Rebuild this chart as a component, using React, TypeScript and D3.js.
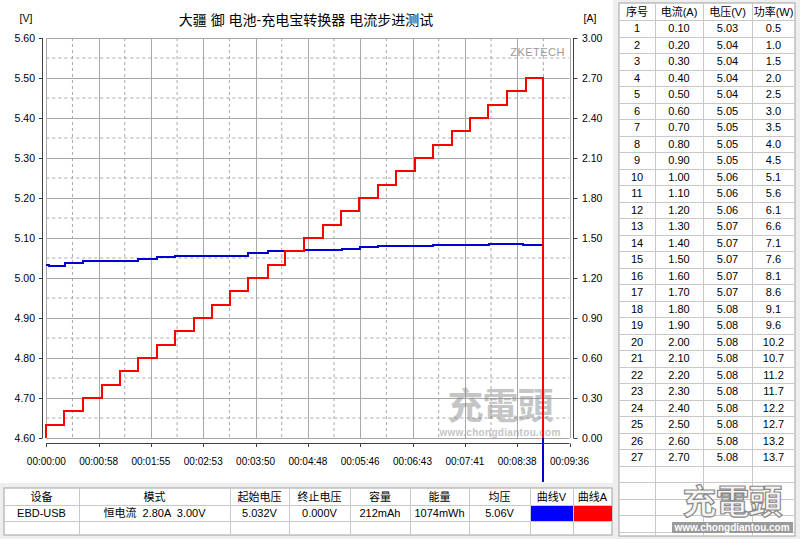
import React from 'react';
import * as d3 from 'd3';

const titleText = '大疆 御 电池-充电宝转换器 电流步进测试';
const leftTicks = [4.6, 4.7, 4.8, 4.9, 5.0, 5.1, 5.2, 5.3, 5.4, 5.5, 5.6];
const rightTicks = [0, 0.3, 0.6, 0.9, 1.2, 1.5, 1.8, 2.1, 2.4, 2.7, 3.0];
const xTickSeconds = [0, 57.6, 115.2, 172.8, 230.4, 288, 345.6, 403.2, 460.8, 518.4, 576];
const xTickLabels = ['00:00:00', '00:00:58', '00:01:55', '00:02:53', '00:03:50', '00:04:48', '00:05:46', '00:06:43', '00:07:41', '00:08:38', '00:09:36'];

// current steps (seconds where each level starts) and levels (A)
const stepTimes = [0, 19.8, 40.7, 61.0, 81.1, 101.3, 121.9, 142.0, 162.3, 182.5, 202.6, 222.5, 244.0, 262.8, 283.7, 305.0, 324.5, 344.8, 365.0, 385.3, 405.5, 426.0, 446.3, 466.5, 486.8, 507.2, 528.1];
const stepCurrents = [0.1, 0.2, 0.3, 0.4, 0.5, 0.6, 0.7, 0.8, 0.9, 1.0, 1.1, 1.2, 1.3, 1.4, 1.5, 1.6, 1.7, 1.8, 1.9, 2.0, 2.1, 2.2, 2.3, 2.4, 2.5, 2.6, 2.7];
const testEnd = 547.2;

// voltage readings (step changes)
const voltTimes = [0, 3, 20.5, 40.5, 101.3, 122, 142, 222, 244, 263, 283.7, 325, 345, 365, 426, 487, 525];
const voltValues = [5.033, 5.031, 5.037, 5.042, 5.047, 5.052, 5.056, 5.062, 5.067, 5.068, 5.07, 5.0725, 5.0767, 5.0808, 5.0825, 5.0858, 5.0833];

const tableHeaders = ['序号', '电流(A)', '电压(V)', '功率(W)'];
const tableCurrent = ['0.10', '0.20', '0.30', '0.40', '0.50', '0.60', '0.70', '0.80', '0.90', '1.00', '1.10', '1.20', '1.30', '1.40', '1.50', '1.60', '1.70', '1.80', '1.90', '2.00', '2.10', '2.20', '2.30', '2.40', '2.50', '2.60', '2.70'];
const tableVoltage = ['5.03', '5.04', '5.04', '5.04', '5.04', '5.05', '5.05', '5.05', '5.05', '5.06', '5.06', '5.06', '5.07', '5.07', '5.07', '5.07', '5.07', '5.08', '5.08', '5.08', '5.08', '5.08', '5.08', '5.08', '5.08', '5.08', '5.08'];
const tablePower = ['0.5', '1.0', '1.5', '2.0', '2.5', '3.0', '3.5', '4.0', '4.5', '5.1', '5.6', '6.1', '6.6', '7.1', '7.6', '8.1', '8.6', '9.1', '9.6', '10.2', '10.7', '11.2', '11.7', '12.2', '12.7', '13.2', '13.7'];

const summaryHeaders = ['设备', '模式', '起始电压', '终止电压', '容量', '能量', '均压', '曲线V', '曲线A'];
const summaryValues = ['EBD-USB', '恒电流  2.80A  3.00V', '5.032V', '0.000V', '212mAh', '1074mWh', '5.06V', '', ''];

const FONT = "'Liberation Sans', 'Noto Sans CJK SC', sans-serif";
const GRID = '#a8a8a8';
const AXIS = '#404040';

export default function App() {
  const x = d3.scaleLinear().domain([0, 576]).range([46.3, 569.5]);
  const yV = d3.scaleLinear().domain([4.6, 5.6]).range([438, 38]);
  const yA = d3.scaleLinear().domain([0, 3]).range([438, 38]);

  const plotL = x(0), plotR = x(576), plotT = yV(5.6), plotB = yV(4.6);

  // current path points
  const curPts: [number, number][] = [[0, 0]];
  stepTimes.forEach((t, i) => {
    curPts.push([t, i === 0 ? 0 : stepCurrents[i - 1]]);
    curPts.push([t, stepCurrents[i]]);
  });
  curPts.push([testEnd, stepCurrents[stepCurrents.length - 1]]);
  curPts.push([testEnd, 0]);
  const curLine = d3.line<[number, number]>().x(d => x(d[0])).y(d => yA(d[1]));

  const vPts: [number, number][] = voltTimes.map((t, i) => [t, voltValues[i]]);
  vPts.push([testEnd, voltValues[voltValues.length - 1]]);
  vPts.push([testEnd, 0]);
  const vLine = d3.line<[number, number]>().x(d => x(d[0])).y(d => yV(d[1])).curve(d3.curveStepAfter);

  const vMids = leftTicks.slice(0, -1).map(v => v + 0.05);
  const xMids = xTickSeconds.slice(0, -1).map(t => t + 28.8);

  // right table geometry
  const tX = [619, 655, 703, 752, 795];
  const tTop = 3, hdrB = 20, rowH = 16.5, tBot = 536;
  const extraRows = [20 + 28 * rowH, 20 + 29 * rowH, 20 + 30 * rowH, 20 + 31 * rowH];

  // bottom table geometry
  const bX = [4, 79, 230, 289, 350, 410, 469, 530, 573, 612];
  const bY = [488, 505, 521, 535];

  return (
    <div style={{ position: 'absolute', left: 0, top: 0, width: 800, height: 539 }}>
      <svg width={800} height={539} style={{ display: 'block', fontFamily: FONT }}>
        <defs>
          <clipPath id="vclip">
            <rect x={plotL - 1} y={plotT - 2} width={plotR - plotL + 2} height={482 - plotT + 2} />
          </clipPath>
        </defs>
        <rect x={0} y={0} width={800} height={539} fill="#eeeeee" />
        <rect x={0} y={0} width={613} height={483} fill="#ffffff" />

        {/* title */}
        <text x={306} y={25} textAnchor="middle" fontSize={14} fill="#000">{titleText}</text>
        <text x={26} y={22} textAnchor="middle" fontSize={10.5} fill="#000">[V]</text>
        <text x={590} y={22} textAnchor="middle" fontSize={10.5} fill="#000">[A]</text>

        {/* grid */}
        {vMids.map(v => (
          <line key={'vm' + v} x1={plotL} x2={plotR} y1={yV(v)} y2={yV(v)} stroke={GRID} strokeDasharray="3,3" />
        ))}
        {xMids.map(t => (
          <line key={'xm' + t} x1={x(t)} x2={x(t)} y1={plotT} y2={plotB} stroke={GRID} strokeDasharray="3,3" />
        ))}
        {leftTicks.map(v => (
          <line key={'vg' + v} x1={plotL} x2={plotR} y1={Math.round(yV(v)) + 0.5} y2={Math.round(yV(v)) + 0.5} stroke={GRID} />
        ))}
        {xTickSeconds.map(t => (
          <line key={'xg' + t} x1={Math.round(x(t)) + 0.5} x2={Math.round(x(t)) + 0.5} y1={plotT} y2={plotB} stroke={GRID} />
        ))}

        {/* ZKETECH */}
        <text x={565} y={56} textAnchor="end" fontSize={11} fill="#9a9a9a" letterSpacing={0.5}>ZKETECH</text>

        {/* in-plot watermark */}
        <g opacity={0.5}>
          <text x={500} y={419} textAnchor="middle" fontSize={36} fontWeight="bold" fill="#8c8c8c" letterSpacing={-1}>充電頭</text>
          <text x={500} y={436} textAnchor="middle" fontSize={10} fontWeight="bold" fill="#8c8c8c" letterSpacing={0.3}>www.chongdiantou.com</text>
        </g>

        {/* left axis */}
        <line x1={42.5} x2={42.5} y1={plotT} y2={plotB} stroke={AXIS} />
        {leftTicks.map(v => (
          <g key={'lt' + v}>
            <line x1={39} x2={42.5} y1={Math.round(yV(v)) + 0.5} y2={Math.round(yV(v)) + 0.5} stroke={AXIS} />
            <text x={35} y={yV(v) + 4} textAnchor="end" fontSize={10.5} fill="#000">{v.toFixed(2)}</text>
          </g>
        ))}

        {/* right axis */}
        <line x1={573.5} x2={573.5} y1={plotT} y2={plotB} stroke={AXIS} />
        {rightTicks.map(v => (
          <g key={'rt' + v}>
            <line x1={573.5} x2={577.5} y1={Math.round(yA(v)) + 0.5} y2={Math.round(yA(v)) + 0.5} stroke={AXIS} />
            <text x={582} y={yA(v) + 4} textAnchor="start" fontSize={10.5} fill="#000">{v.toFixed(2)}</text>
          </g>
        ))}

        {/* x axis */}
        <line x1={plotL} x2={plotR} y1={443.5} y2={443.5} stroke={AXIS} />
        {xTickSeconds.map((t, i) => (
          <g key={'xt' + t}>
            <line x1={Math.round(x(t)) + 0.5} x2={Math.round(x(t)) + 0.5} y1={443.5} y2={447} stroke={AXIS} />
            <text x={x(t)} y={465} textAnchor="middle" fontSize={10} fill="#000">{xTickLabels[i]}</text>
          </g>
        ))}

        {/* series */}
        <path d={vLine(vPts) || ''} fill="none" stroke="#0000d0" strokeWidth={2} clipPath="url(#vclip)" shapeRendering="crispEdges" />
        <path d={curLine(curPts) || ''} fill="none" stroke="#ff0000" strokeWidth={2} shapeRendering="crispEdges" />

        {/* right table */}
        <rect x={tX[0]} y={tTop} width={tX[4] - tX[0]} height={tBot - tTop} fill="#ffffff" stroke="#a0a0a0" />
        {tX.slice(1, 4).map(cx => (
          <line key={'tc' + cx} x1={cx + 0.5} x2={cx + 0.5} y1={tTop} y2={tBot} stroke="#c8c8c8" />
        ))}
        <line x1={tX[0]} x2={tX[4]} y1={hdrB + 0.5} y2={hdrB + 0.5} stroke="#c8c8c8" />
        {tableCurrent.map((_, i) => (
          <line key={'tr' + i} x1={tX[0]} x2={tX[4]} y1={Math.round(hdrB + (i + 1) * rowH) + 0.5} y2={Math.round(hdrB + (i + 1) * rowH) + 0.5} stroke="#c8c8c8" />
        ))}
        {extraRows.map(ry => (
          <line key={'er' + ry} x1={tX[0]} x2={tX[4]} y1={Math.round(ry) + 0.5} y2={Math.round(ry) + 0.5} stroke="#c8c8c8" />
        ))}
        {tableHeaders.map((h, j) => (
          <text key={'th' + j} x={(tX[j] + tX[j + 1]) / 2} y={16} textAnchor="middle" fontSize={11} fill="#000">{h}</text>
        ))}
        {tableCurrent.map((c, i) => {
          const cy = hdrB + i * rowH + rowH / 2 + 4;
          const cells = [String(i + 1), c, tableVoltage[i], tablePower[i]];
          return cells.map((s, j) => (
            <text key={'td' + i + '-' + j} x={(tX[j] + tX[j + 1]) / 2} y={cy} textAnchor="middle" fontSize={11} fill="#000">{s}</text>
          ));
        })}

        {/* bottom-right logo */}
        <rect x={672} y={522} width={121} height={11} fill="#9a9a9a" />
        <text x={732} y={514} textAnchor="middle" fontSize={34} fontWeight="bold" fill="#f4f4f4" stroke="#8a8a8a" strokeWidth={1.2} letterSpacing={-1}>充電頭</text>
        <text x={732} y={531} textAnchor="middle" fontSize={10} fontWeight="bold" fill="#ffffff">www.chongdiantou.com</text>

        {/* bottom table */}
        <rect x={bX[0]} y={bY[0]} width={bX[9] - bX[0]} height={bY[3] - bY[0]} fill="#ffffff" stroke="#a0a0a0" />
        <rect x={bX[7] + 1} y={bY[1] + 1} width={bX[8] - bX[7] - 1} height={bY[2] - bY[1] - 1} fill="#0000ff" />
        <rect x={bX[8] + 1} y={bY[1] + 1} width={bX[9] - bX[8] - 1} height={bY[2] - bY[1] - 1} fill="#ff0000" />
        {bX.slice(1, 9).map(cx => (
          <line key={'bc' + cx} x1={cx + 0.5} x2={cx + 0.5} y1={bY[0]} y2={bY[3]} stroke="#c8c8c8" />
        ))}
        {bY.slice(1, 3).map(ry => (
          <line key={'br' + ry} x1={bX[0]} x2={bX[9]} y1={ry + 0.5} y2={ry + 0.5} stroke="#c8c8c8" />
        ))}
        {summaryHeaders.map((h, j) => (
          <text key={'sh' + j} x={(bX[j] + bX[j + 1]) / 2} y={501} textAnchor="middle" fontSize={11} fill="#000">{h}</text>
        ))}
        {summaryValues.map((s, j) => (
          <text key={'sv' + j} x={(bX[j] + bX[j + 1]) / 2} y={517} textAnchor="middle" fontSize={11} fill="#000" xmlSpace="preserve">{s}</text>
        ))}
      </svg>
    </div>
  );
}
